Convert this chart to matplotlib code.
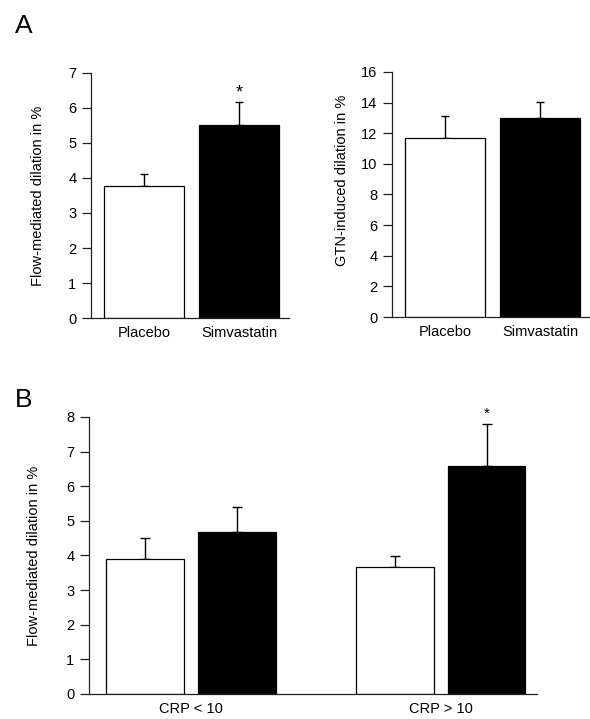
import matplotlib
matplotlib.use("Agg")
import matplotlib.pyplot as plt

plt.rcParams['font.family'] = ['Liberation Sans', 'DejaVu Sans']

# Panel A (left): flow-mediated dilation
a_groups = ["Placebo", "Simvastatin"]
a_fmd = [3.76, 5.50]
a_fmd_err = [0.34, 0.67]

# Panel A (right): GTN-induced dilation
a_gtn = [11.7, 13.0]
a_gtn_err = [1.43, 1.05]

# Panel B: FMD by CRP strata
b_groups = ["CRP < 10", "CRP > 10"]
b_placebo = [3.91, 3.66]
b_placebo_err = [0.60, 0.32]
b_simva = [4.67, 6.57]
b_simva_err = [0.74, 1.23]

fill_colors = ["white", "black"]

fig = plt.figure(figsize=(5.9, 7.19), dpi=100)

def style_axis(ax):
    for s in ["top", "right"]:
        ax.spines[s].set_visible(False)
    for s in ["left", "bottom"]:
        ax.spines[s].set_linewidth(0.9)
        ax.spines[s].set_color("#222222")
    ax.tick_params(axis="y", direction="out", length=6.5, width=0.9,
                   labelsize=10.5, pad=4, colors="#222222")
    ax.tick_params(axis="x", length=0, labelsize=10.5, pad=6)
    for lbl in ax.get_yticklabels():
        lbl.set_color("black")

def draw_pair(ax, vals, errs, ylim, yticks, ylabel, lab_x, lab_y=0.5):
    xs = list(range(len(vals)))
    ax.bar(xs, vals, width=0.84, color=fill_colors, edgecolor="black",
           linewidth=0.9, zorder=2)
    ax.errorbar(xs, vals, yerr=[[0] * len(errs), errs], fmt="none",
                ecolor="black", elinewidth=1.0, capsize=3, capthick=1.0,
                zorder=1)
    ax.set_xlim(-0.558, 1.526)
    ax.set_ylim(*ylim)
    ax.set_yticks(yticks)
    ax.set_xticks(xs)
    ax.set_xticklabels(a_groups)
    ax.set_ylabel(ylabel, fontsize=10.5)
    ax.yaxis.set_label_coords(lab_x, lab_y)
    style_axis(ax)

# A left
ax1 = fig.add_axes([0.1542, 0.5577, 0.3356, 0.3408])
draw_pair(ax1, a_fmd, a_fmd_err, (0, 7), range(0, 8),
          "Flow-mediated dilation in %", -0.232)
ax1.text(1, a_fmd[1] + a_fmd_err[1] + 0.02, "*", ha="center", va="bottom",
         fontsize=13, clip_on=False)

# A right
ax2 = fig.add_axes([0.6644, 0.5591, 0.3356, 0.3408])
draw_pair(ax2, a_gtn, a_gtn_err, (0, 16), range(0, 17, 2),
          "GTN-induced dilation in %", -0.217, 0.556)

# B
ax3 = fig.add_axes([0.1508, 0.0348, 0.7593, 0.3853])
centers = [1, 2]
off = 0.184
w = 0.312
xp = [c - off for c in centers]
xs = [c + off for c in centers]
ax3.bar(xp, b_placebo, width=w, color="white", edgecolor="black",
        linewidth=0.9, zorder=2)
ax3.bar(xs, b_simva, width=w, color="black", edgecolor="black",
        linewidth=0.9, zorder=2)
ax3.errorbar(xp, b_placebo, yerr=[[0, 0], b_placebo_err], fmt="none",
             ecolor="black", elinewidth=1.0, capsize=3.5, capthick=1.0, zorder=1)
ax3.errorbar(xs, b_simva, yerr=[[0, 0], b_simva_err], fmt="none",
             ecolor="black", elinewidth=1.0, capsize=3.5, capthick=1.0, zorder=1)
ax3.set_xlim(0.5915, 2.386)
ax3.set_ylim(0, 8)
ax3.set_yticks(range(0, 9))
ax3.set_xticks(centers)
ax3.set_xticklabels(b_groups)
ax3.set_ylabel("Flow-mediated dilation in %", fontsize=10.5)
ax3.yaxis.set_label_coords(-0.106, 0.5)
style_axis(ax3)
ax3.text(xs[1], b_simva[1] + b_simva_err[1] + 0.1, "*", ha="center",
         va="bottom", fontsize=11, clip_on=False)

fig.text(15 / 590, 1 - 33 / 719, "A", fontsize=19, ha="left", va="baseline")
fig.text(15 / 590, 1 - 407 / 719, "B", fontsize=19, ha="left", va="baseline")

fig.savefig("out.png", dpi=100)
